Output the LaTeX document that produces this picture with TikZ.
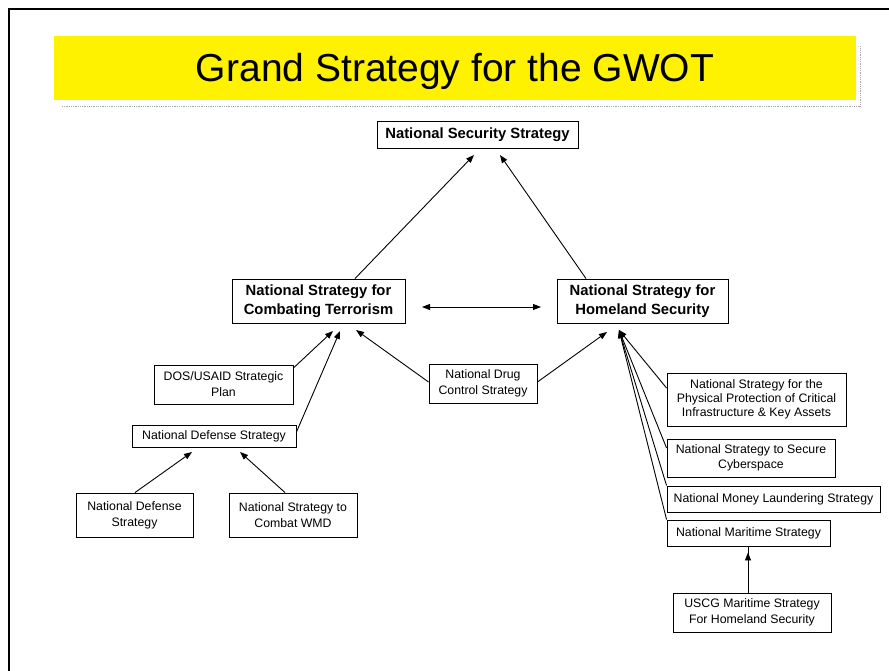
\documentclass[tikz,border=0pt]{standalone}
\usepackage{fontspec}
\setmainfont{Liberation Sans}
\usetikzlibrary{arrows.meta}
\tikzset{
  box/.style={draw=black, line width=0.9pt, inner sep=0pt, align=center, font=\fontsize{12.3}{16}\selectfont},
  bbox/.style={box, font=\fontsize{14.8}{18.5}\selectfont\bfseries},
  arr/.style={line width=0.9pt, -{Triangle[length=8pt,width=6pt]}},
  darr/.style={line width=0.9pt, {Triangle[length=8pt,width=6pt]}-{Triangle[length=8pt,width=6pt]}},
}
\begin{document}
\begin{tikzpicture}[x=1pt,y=-1pt]
\useasboundingbox (0,0) rectangle (889,671);
% slide frame
\draw[line width=2.2pt] (9,671) -- (9,9) -- (889,9);
% title band
\draw[gray!70, densely dotted, line width=0.8pt] (62,106) -- (860,106) -- (860,46);
\fill[yellow] (54,36) rectangle (856,100);
\node[font=\fontsize{39}{44}\selectfont] (title) at (455,71) {Grand Strategy for the GWOT};
% nodes
\node[bbox, minimum width=201, minimum height=27] (nss) at (477.5,134.5) {National Security Strategy};
\node[bbox, minimum width=173, minimum height=44] (nsct) at (318.5,301) {National Strategy for\\Combating Terrorism};
\node[bbox, minimum width=171, minimum height=44] (nshs) at (642.5,301) {National Strategy for\\Homeland Security};
\node[box, minimum width=139, minimum height=39] (dos) at (223.5,384.5) {DOS/USAID Strategic\\Plan};
\node[box, minimum width=164, minimum height=22] (ndsm) at (214,436) {National Defense Strategy};
\node[box, minimum width=117, minimum height=44] (ndsb) at (134.5,515) {National Defense\\Strategy};
\node[box, minimum width=128, minimum height=44] (wmd) at (293,515) {National Strategy to\\Combat WMD};
\node[box, minimum width=108, minimum height=39] (ndcs) at (483,383.5) {National Drug\\Control Strategy};
\node[box, minimum width=179, minimum height=53, font=\fontsize{12.3}{14.2}\selectfont] (nspp) at (756.5,399.5) {National Strategy for the\\Physical Protection of Critical\\Infrastructure \& Key Assets};
\node[box, minimum width=168, minimum height=38, font=\fontsize{12.3}{15}\selectfont] (nssc) at (751,458) {National Strategy to Secure\\Cyberspace};
\node[box, minimum width=213, minimum height=26] (nmls) at (773.5,499) {National Money Laundering Strategy};
\node[box, minimum width=163, minimum height=26] (nms) at (748.5,533) {National Maritime Strategy};
\node[box, minimum width=158, minimum height=39] (uscg) at (752,612.5) {USCG Maritime Strategy\\For Homeland Security};
% arrow tip coordinates
\coordinate (tNssL) at (474,155);
\coordinate (tNssR) at (500,155);
\coordinate (tCt1) at (333,331);
\coordinate (tCt2) at (340,331);
\coordinate (tCt3) at (356,330);
\coordinate (tHs1) at (607,332);
\coordinate (tHs2) at (619,330);
\coordinate (tNd1) at (192,452);
\coordinate (tNd2) at (240,452);
\coordinate (dL) at (422,307);
\coordinate (dR) at (541,307);
% connectors
\draw[arr] (nsct.north -| 355,0) -- (tNssL);
\draw[arr] (nshs.north -| 586,0) -- (tNssR);
\draw[darr] (dL) -- (dR);
\draw[arr] (dos.east |- 0,368) -- (tCt1);
\draw[arr] (ndsm.east |- 0,432) -- (tCt2);
\draw[arr] (ndcs.west |- 0,382) -- (tCt3);
\draw[arr] (ndcs.east |- 0,382) -- (tHs1);
\draw[arr] (nspp.west |- 0,388) -- (tHs2);
\draw[arr] (nssc.west |- 0,448) -- (tHs2);
\draw[arr] (nmls.north west) -- (tHs2);
\draw[arr] (nms.north west) -- (tHs2);
\draw[arr] (ndsb.north -| 135,0) -- (tNd1);
\draw[arr] (wmd.north -| 285,0) -- (tNd2);
\draw[arr] (uscg.north -| 748,0) -- (nms.south -| 748,0) ++(0,6);
\end{tikzpicture}
\end{document}
